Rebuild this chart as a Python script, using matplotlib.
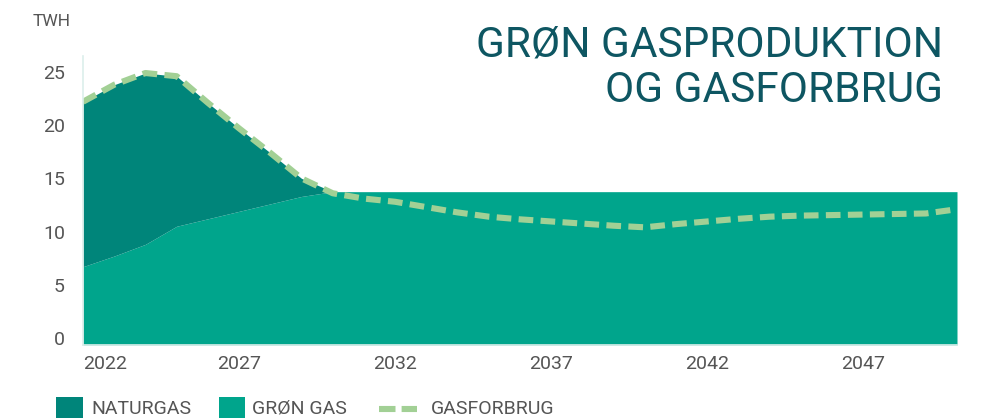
import numpy as np
import matplotlib.pyplot as plt
from matplotlib.patches import Rectangle
from matplotlib.lines import Line2D

plt.rcParams['font.family'] = ['Roboto', 'DejaVu Sans']

# === data (TWh) ===
years = list(range(2022, 2051))
groen_gas = [6.7, 7.7, 8.8, 10.5, 11.2, 11.9, 12.6, 13.3, 13.75, 13.75,
             13.75, 13.75, 13.75, 13.75, 13.75, 13.75, 13.75, 13.75, 13.75, 13.75,
             13.75, 13.75, 13.75, 13.75, 13.75, 13.75, 13.75, 13.75, 13.75]
naturgas = [15.5, 16.1, 16.1, 14.1, 10.9, 7.8, 4.8, 1.7, 0, 0,
            0, 0, 0, 0, 0, 0, 0, 0, 0, 0,
            0, 0, 0, 0, 0, 0, 0, 0, 0]
gasforbrug = [22.2, 23.8, 24.9, 24.6, 22.1, 19.7, 17.4, 15.0, 13.6, 13.1,
              12.8, 12.3, 11.8, 11.4, 11.15, 10.95, 10.75, 10.55, 10.4, 10.7,
              10.95, 11.2, 11.4, 11.5, 11.55, 11.6, 11.65, 11.7, 12.1]
xticks = [2022, 2027, 2032, 2037, 2042, 2047]
yticks = [0, 5, 10, 15, 20, 25]

c_natur = '#00857a'
c_groen = '#00a58c'
c_forbrug = '#a2d095'
c_title = '#0e5662'
c_text = '#555555'

x = np.array(years)
g = np.array(groen_gas)
n = np.array(naturgas)

fig = plt.figure(figsize=(9.82, 4.18), dpi=100)
ax = fig.add_axes([83 / 982, 1 - 345 / 418, 874 / 982, 289 / 418])

ybot = -0.66
ax.fill_between(x, ybot, g, color=c_groen, lw=0)
ax.fill_between(x, g, g + n, where=n > 0, color=c_natur, lw=0, interpolate=True)
ax.plot(x, gasforbrug, color=c_forbrug, lw=4.4, dashes=(2.4, 1.2),
        solid_capstyle='butt', dash_capstyle='butt')

ax.set_xlim(2022, 2050)
ax.set_ylim(ybot, 26.5)
for s in ['top', 'right']:
    ax.spines[s].set_visible(False)
ax.spines['left'].set_color('#dcefeb')
ax.spines['bottom'].set_color('#dcefeb')
ax.spines['left'].set_linewidth(1.2)
ax.spines['bottom'].set_linewidth(1.2)

ax.set_yticks(yticks)
ax.set_yticklabels([str(v) for v in yticks], fontsize=14, color=c_text)
ax.set_xticks(xticks)
ax.set_xticklabels([str(v) for v in xticks], fontsize=14, color=c_text)
ax.tick_params(axis='both', length=0)
ax.tick_params(axis='y', pad=13)
ax.tick_params(axis='x', pad=7)
ax.get_xticklabels()[0].set_horizontalalignment('left')

fig.text(71 / 982, 1 - 22 / 418, 'TWH', ha='right', va='center', fontsize=12.5, color=c_text)

fig.text(943 / 982, 1 - 45 / 418, 'GRØN GASPRODUKTION', ha='right', va='center',
         fontsize=30.5, color=c_title)
fig.text(943 / 982, 1 - 90 / 418, 'OG GASFORBRUG', ha='right', va='center',
         fontsize=30.5, color=c_title)

# legend
ly = 1 - 409 / 418
fig.patches.append(Rectangle((56 / 982, 0), 27 / 982, 21 / 418, transform=fig.transFigure,
                             color=c_natur, lw=0))
fig.text(91 / 982, ly, 'NATURGAS', va='center', fontsize=14, color=c_text)
fig.patches.append(Rectangle((219 / 982, 0), 26 / 982, 21 / 418, transform=fig.transFigure,
                             color=c_groen, lw=0))
fig.text(252 / 982, ly, 'GRØN GAS', va='center', fontsize=14, color=c_text)
fig.lines.append(Line2D([379 / 982, 417 / 982], [ly, ly], transform=fig.transFigure,
                        color=c_forbrug, lw=4.4, dashes=(2.7, 1.0), dash_capstyle='butt'))
fig.text(431 / 982, ly, 'GASFORBRUG', va='center', fontsize=14, color=c_text)

fig.savefig('out.png', dpi=100)
